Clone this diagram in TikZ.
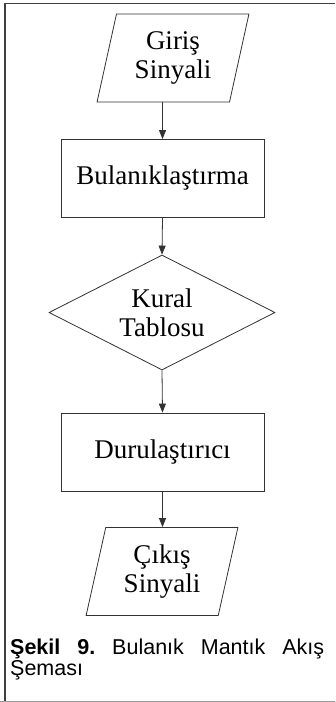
\documentclass[tikz,border=0pt]{standalone}
\usepackage{fontspec}
\setmainfont{Liberation Serif}
\newfontfamily\capfont{Liberation Sans}
\usetikzlibrary{arrows.meta}
\usetikzlibrary{shapes.geometric}

\begin{document}
\begin{tikzpicture}[x=1pt,y=-1pt,
		stage/.style={draw=black!80,line width=0.8pt,inner sep=0pt,align=center,font=\fontsize{27}{29}\selectfont},
		procbox/.style={stage,minimum width=203pt,minimum height=78pt},
		iobox/.style={stage,trapezium,trapezium left angle=76,trapezium right angle=104,trapezium stretches=true,minimum width=152pt,minimum height=88pt},
		rulebox/.style={stage,diamond,shape aspect=1.97,minimum width=226pt,minimum height=115pt},
		flow/.style={-{Triangle[length=9pt,width=7pt]},line width=0.8pt,draw=black!80},
		captext/.style={anchor=base west,inner sep=0pt,font=\capfont\fontsize{21.5}{26}\selectfont}]
		\useasboundingbox (0,0) rectangle (335,702);
		% frame
		\draw[line width=2pt,black!75] (4.5,2.6) -- (4.5,702);
		\draw[line width=1.5pt,black!75] (3.5,3.3) -- (335,3.3);
		\draw[line width=1.2pt,black!40] (0,701.2) -- (335,701.2);
		% flow chart
		\node[iobox] (in) at (173,58) {Giriş\\Sinyali};
		\node[procbox] (fuzz) at (162.5,178.5) {Bulanıklaştırma};
		\node[rulebox] (rules) at (162,312.5) {Kural\\Tablosu};
		\node[procbox] (defuzz) at (162.5,452) {Durulaştırıcı};
		\node[iobox] (out) at (162,571.5) {Çıkış\\Sinyali};
		\draw[flow] (in.south -| fuzz.north) -- (fuzz.north);
		\draw[flow] (fuzz.south) -- (rules.north);
		\draw[flow] (rules.south) -- (defuzz.north);
		\draw[flow] (defuzz.south) -- (out.north -| defuzz.south);
		% caption
		\node[captext] (caption) at (10,654) {\makebox[314pt][s]{\textbf{Şekil}\hfill\textbf{9.}\hfill Bulanık\hfill Mantık\hfill Akış}};
		\node[captext] (caption2) at (10,675) {Şeması};
		
		\end{tikzpicture}
\end{document}
